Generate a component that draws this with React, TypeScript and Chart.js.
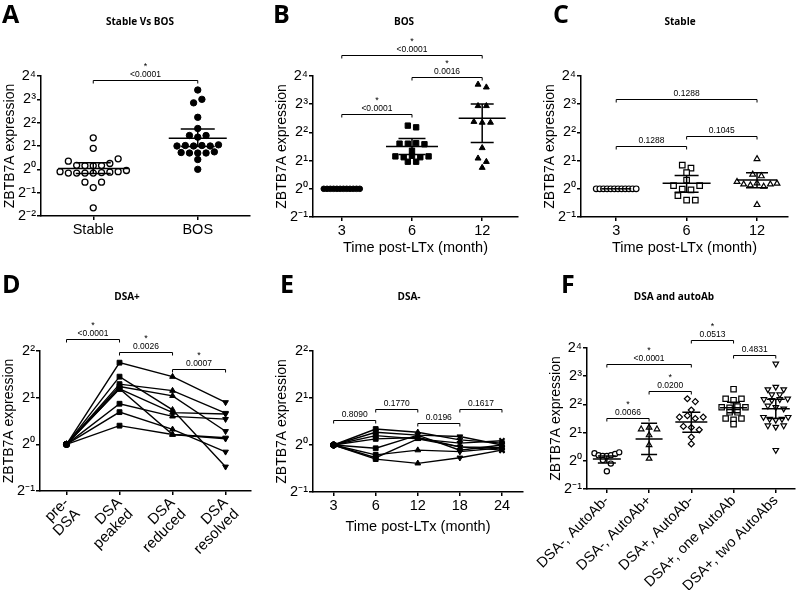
import React, { useEffect, useRef } from "react";
import { Chart, registerables } from "chart.js";

Chart.register(...registerables);

// ---------------- DATA (log2 values of ZBTB7A expression) ----------------
const A_CATEGORIES = ["Stable", "BOS"];
const A_STABLE = [1.35, 0.9, 0.35, 0.17, 0.15, 0.15, 0.16, 0.25, 0.45, -0.1, -0.16, -0.16, -0.16, -0.16, -0.14, -0.12, -0.1, -0.05, -0.55, -0.78, -0.55, -1.65];
const A_BOS = [3.4, 2.85, 3.0, 2.23, 1.75, 1.45, 1.38, 1.45, 1.0, 1.02, 1.0, 1.02, 1.0, 1.05, 0.72, 0.7, 0.7, 0.7, 0.75, 0.42, 0.0];
const A_MEAN = [0.04, 1.33];
const A_LOW = [-0.18, 0.98];
const A_HIGH = [0.28, 1.73];

const B_CATEGORIES = ["3", "6", "12"];
const B_M3 = [0, 0, 0, 0, 0, 0, 0, 0, 0, 0, 0, 0];
const B_M6 = [2.24, 2.18, 1.6, 1.6, 1.62, 1.58, 1.35, 1.15, 1.12, 1.17, 1.12, 1.15, 0.96, 0.96];
const B_M12 = [3.7, 3.6, 2.94, 2.94, 2.38, 2.35, 2.35, 1.45, 1.08, 0.96, 0.75];
const B_MEAN = [0, 1.5, 2.5];
const B_LOW = [0, 1.22, 1.64];
const B_HIGH = [0, 1.78, 3.01];

const C_CATEGORIES = ["3", "6", "12"];
const C_M3 = [0, 0, 0, 0, 0, 0, 0, 0, 0, 0, 0, 0];
const C_M6 = [0.84, 0.73, 0.57, 0.31, 0.11, -0.01, -0.04, 0.11, -0.24, -0.4, -0.4];
const C_M12 = [1.06, 0.51, 0.45, 0.25, 0.16, 0.13, 0.2, 0.08, 0.16, 0.19, -0.57];
const C_MEAN = [0, 0.2, 0.31];
const C_LOW = [0, -0.12, 0.04];
const C_HIGH = [0, 0.47, 0.57];

const D_CATEGORIES = [["pre-", "DSA"], ["DSA", "peaked"], ["DSA", "reduced"], ["DSA", "resolved"]];
const D_SERIES = [
  [0, 1.75, 1.45, 0.9],
  [0, 1.45, 0.74, -0.48],
  [0, 1.29, 1.15, 0.67],
  [0, 1.24, 1.04, 0.28],
  [0, 1.19, 0.68, 0.65],
  [0, 1.19, 0.21, 0.12],
  [0, 0.87, 0.6, 0.54],
  [0, 0.69, 0.32, -0.16],
  [0, 0.4, 0.21, 0.14],
];

const E_CATEGORIES = ["3", "6", "12", "18", "24"];
const E_SERIES = [
  [0, 0.34, 0.27, 0.11, 0.04],
  [0, 0.27, 0.21, 0.18, 0.0],
  [0, 0.2, 0.13, 0.04, 0.09],
  [0, 0.13, 0.16, -0.04, -0.06],
  [0, -0.07, 0.21, -0.11, 0.0],
  [0, -0.21, -0.11, -0.14, -0.06],
  [0, -0.27, 0.13, -0.04, -0.11],
  [0, -0.3, -0.39, -0.27, -0.11],
];

const F_CATEGORIES = ["DSA-, AutoAb-", "DSA-, AutoAb+", "DSA+, AutoAb-", "DSA+, one AutoAb", "DSA+, two AutoAbs"];
const F_G1 = [0.27, 0.2, 0.17, 0.17, 0.2, 0.24, 0.3, 0.03, -0.1, -0.37];
const F_G2 = [1.12, 1.18, 1.12, 0.91, 0.56, 0.08];
const F_G3 = [2.2, 2.1, 1.8, 1.55, 1.6, 1.5, 1.55, 1.22, 1.18, 1.1, 0.84, 0.6];
const F_G4 = [2.54, 2.2, 2.15, 2.2, 1.9, 1.88, 1.92, 1.9, 1.72, 1.72, 1.5, 1.45, 1.5, 1.3];
const F_G5 = [3.44, 2.53, 2.62, 2.53, 2.35, 2.35, 2.18, 2.15, 2.18, 2.2, 1.95, 1.9, 1.85, 1.55, 1.48, 1.45, 1.48, 1.55, 1.25, 1.2, 1.25, 0.38];
const F_MEAN = [0.06, 0.77, 1.38, 1.88, 1.85];
const F_LOW = [-0.08, 0.22, 1.01, 1.7, 1.5];
const F_HIGH = [0.17, 1.33, 1.72, 2.08, 2.18];

type Bracket = { from: number; to: number; level: number; p: string; star: boolean };
const A_BRACKETS: Bracket[] = [{ from: 0, to: 1, level: 3.83, p: "<0.0001", star: true }];
const B_BRACKETS: Bracket[] = [
  { from: 0, to: 1, level: 2.64, p: "<0.0001", star: true },
  { from: 1, to: 2, level: 3.98, p: "0.0016", star: true },
  { from: 0, to: 2, level: 4.74, p: "<0.0001", star: true },
];
const C_BRACKETS: Bracket[] = [
  { from: 0, to: 1, level: 1.53, p: "0.1288", star: false },
  { from: 1, to: 2, level: 1.87, p: "0.1045", star: false },
  { from: 0, to: 2, level: 3.18, p: "0.1288", star: false },
];
const D_BRACKETS: Bracket[] = [
  { from: 0, to: 1, level: 2.25, p: "<0.0001", star: true },
  { from: 1, to: 2, level: 1.985, p: "0.0026", star: true },
  { from: 2, to: 3, level: 1.62, p: "0.0007", star: true },
];
const E_BRACKETS: Bracket[] = [
  { from: 0, to: 1, level: 0.53, p: "0.8090", star: false },
  { from: 1, to: 2, level: 0.76, p: "0.1770", star: false },
  { from: 2, to: 3, level: 0.46, p: "0.0196", star: false },
  { from: 3, to: 4, level: 0.76, p: "0.1617", star: false },
];
const F_BRACKETS: Bracket[] = [
  { from: 0, to: 1, level: 1.51, p: "0.0066", star: true },
  { from: 1, to: 2, level: 2.49, p: "0.0200", star: true },
  { from: 0, to: 2, level: 3.44, p: "<0.0001", star: true },
  { from: 2, to: 3, level: 4.3, p: "0.0513", star: true },
  { from: 3, to: 4, level: 3.76, p: "0.4831", star: false },
];

// ---------------- STYLE / LAYOUT ----------------
const SANS = '"Liberation Sans", Arial, sans-serif';
const BOLD = '"Open Sans", "Noto Sans", sans-serif';
const Y_TITLE = "ZBTB7A expression";
const X_TITLE = "Time post-LTx (month)";

const SUP: Record<string, string> = { "-": "\u207B", "0": "\u2070", "1": "\u00B9", "2": "\u00B2", "3": "\u00B3", "4": "\u2074" };
const supText = (n: number) => String(n).split("").map((c) => SUP[c] || c).join("");

type Marker = { style: string; radius: number; rotation?: number; open: boolean; border?: number };
type Group = { values: number[]; marker: Marker };

type Spec = {
  key: string;
  left: number; top: number; w: number; h: number;
  area: { l: number; r: number; t: number; b: number };
  xMin: number; xMax: number; yMin: number; yMax: number;
  labels: (string | string[])[];
  rotation: number; labelSize: number;
  xTitle?: string; xTitleY?: number;
  letter: string; letterX: number; letterY: number;
  title: string; titleX: number; titleY: number;
  groups?: Group[];
  swarm?: { thr: number; stepPx: number; maxPx: number };
  summary?: { mean: number[]; low: number[]; high: number[]; halfW: number[]; capW: number[] };
  series?: number[][];
  seriesMarkers?: Marker[];
  brackets: Bracket[];
};

const circleOpen: Marker = { style: "circle", radius: 2.8, open: true, border: 1.2 };

function swarm(vals: number[], center: number, thr: number, step: number, maxW: number) {
  const rows: number[][] = [];
  let cur: number[] = [];
  let first = 0;
  vals.forEach((v) => {
    if (cur.length && Math.abs(v - first) < thr) cur.push(v);
    else {
      if (cur.length) rows.push(cur);
      cur = [v];
      first = v;
    }
  });
  if (cur.length) rows.push(cur);
  const pts: { x: number; y: number }[] = [];
  rows.forEach((r) => {
    const n = r.length;
    const s = n > 1 ? Math.min(step, maxW / (n - 1)) : 0;
    r.forEach((v, i) => pts.push({ x: center + (i - (n - 1) / 2) * s, y: v }));
  });
  return pts;
}

const SPECS: Spec[] = [
  {
    key: "A", left: 0, top: 0, w: 262, h: 265,
    area: { l: 41, r: 250, t: 76, b: 216 },
    xMin: -0.5, xMax: 1.5, yMin: -2, yMax: 4,
    labels: A_CATEGORIES, rotation: 0, labelSize: 14.5,
    letter: "A", letterX: 2, letterY: 23, title: "Stable Vs BOS", titleX: 140, titleY: 25,
    groups: [
      { values: A_STABLE, marker: { style: "circle", radius: 3, open: true, border: 1.3 } },
      { values: A_BOS, marker: { style: "circle", radius: 3.2, open: false } },
    ],
    swarm: { thr: 0.25, stepPx: 8.3, maxPx: 80 },
    summary: { mean: A_MEAN, low: A_LOW, high: A_HIGH, halfW: [35, 29], capW: [17.5, 17] },
    brackets: A_BRACKETS,
  },
  {
    key: "B", left: 262, top: 0, w: 268, h: 265,
    area: { l: 313, r: 518, t: 76, b: 217 },
    xMin: -0.41, xMax: 2.51, yMin: -1, yMax: 4,
    labels: B_CATEGORIES, rotation: 0, labelSize: 14.5, xTitle: X_TITLE, xTitleY: 248,
    letter: "B", letterX: 273, letterY: 23, title: "BOS", titleX: 404, titleY: 25,
    groups: [
      { values: B_M3, marker: { style: "circle", radius: 2.8, open: false } },
      { values: B_M6, marker: { style: "rect", radius: 3.8, open: false } },
      { values: B_M12, marker: { style: "triangle", radius: 3.4, open: false } },
    ],
    swarm: { thr: 0.15, stepPx: 8.3, maxPx: 36 },
    summary: { mean: B_MEAN, low: B_LOW, high: B_HIGH, halfW: [15, 26, 23.5], capW: [0, 13.5, 11.5] },
    brackets: B_BRACKETS,
  },
  {
    key: "C", left: 530, top: 0, w: 270, h: 265,
    area: { l: 581, r: 788, t: 76, b: 217 },
    xMin: -0.5, xMax: 2.44, yMin: -1, yMax: 4,
    labels: C_CATEGORIES, rotation: 0, labelSize: 14.5, xTitle: X_TITLE, xTitleY: 248,
    letter: "C", letterX: 553, letterY: 23, title: "Stable", titleX: 680, titleY: 25,
    groups: [
      { values: C_M3, marker: circleOpen },
      { values: C_M6, marker: { style: "rect", radius: 3.9, open: true, border: 1.2 } },
      { values: C_M12, marker: { style: "triangle", radius: 3.3, open: true, border: 1.2 } },
    ],
    swarm: { thr: 0.18, stepPx: 8.7, maxPx: 40 },
    summary: { mean: C_MEAN, low: C_LOW, high: C_HIGH, halfW: [15, 24, 20], capW: [0, 12, 11] },
    brackets: C_BRACKETS,
  },
  {
    key: "D", left: 0, top: 265, w: 262, h: 325,
    area: { l: 40, r: 251, t: 351, b: 491 },
    xMin: -0.5, xMax: 3.48, yMin: -1, yMax: 2,
    labels: D_CATEGORIES, rotation: 45, labelSize: 15,
    letter: "D", letterX: 2, letterY: 293, title: "DSA+", titleX: 127, titleY: 300,
    series: D_SERIES,
    seriesMarkers: [
      { style: "circle", radius: 3, open: false },
      { style: "rect", radius: 3.4, open: false },
      { style: "triangle", radius: 3.3, open: false },
      { style: "triangle", radius: 3.3, rotation: 180, open: false },
    ],
    brackets: D_BRACKETS,
  },
  {
    key: "E", left: 262, top: 265, w: 268, h: 325,
    area: { l: 313, r: 523, t: 351, b: 492 },
    xMin: -0.49, xMax: 4.5, yMin: -1, yMax: 2,
    labels: E_CATEGORIES, rotation: 0, labelSize: 14.5, xTitle: X_TITLE, xTitleY: 527,
    letter: "E", letterX: 280, letterY: 293, title: "DSA-", titleX: 409, titleY: 300,
    series: E_SERIES,
    seriesMarkers: [
      { style: "circle", radius: 3, open: false },
      { style: "rect", radius: 3.4, open: false },
      { style: "triangle", radius: 3.3, open: false },
      { style: "triangle", radius: 3.3, rotation: 180, open: false },
      { style: "crossRot", radius: 3.6, open: false, border: 2 },
    ],
    brackets: E_BRACKETS,
  },
  {
    key: "F", left: 530, top: 265, w: 270, h: 325,
    area: { l: 587, r: 797, t: 348, b: 489 },
    xMin: -0.47, xMax: 4.45, yMin: -1, yMax: 4,
    labels: F_CATEGORIES, rotation: 45, labelSize: 14.5,
    letter: "F", letterX: 561, letterY: 293, title: "DSA and autoAb", titleX: 674, titleY: 300,
    groups: [
      { values: F_G1, marker: { style: "circle", radius: 2.6, open: true, border: 1.2 } },
      { values: F_G2, marker: { style: "triangle", radius: 3.2, open: true, border: 1.2 } },
      { values: F_G3, marker: { style: "rectRot", radius: 3, open: true, border: 1.2 } },
      { values: F_G4, marker: { style: "rect", radius: 3.8, open: true, border: 1.2 } },
      { values: F_G5, marker: { style: "triangle", radius: 3.2, rotation: 180, open: true, border: 1.2 } },
    ],
    swarm: { thr: 0.15, stepPx: 8, maxPx: 25 },
    summary: { mean: F_MEAN, low: F_LOW, high: F_HIGH, halfW: [14, 13.5, 16, 13.5, 14], capW: [9, 8, 9, 6.5, 9] },
    brackets: F_BRACKETS,
  },
];

function makePlugin(spec: Spec) {
  return {
    id: "prism" + spec.key,
    afterDatasetsDraw(chart: any) {
      const sm = spec.summary;
      if (!sm) return;
      const { ctx } = chart;
      const xs = chart.scales.x;
      const ys = chart.scales.y;
      ctx.save();
      ctx.strokeStyle = "#000";
      ctx.lineWidth = 1.5;
      sm.mean.forEach((m, i) => {
        const cx = xs.getPixelForValue(i);
        const my = ys.getPixelForValue(m);
        const ly = ys.getPixelForValue(sm.low[i]);
        const hy = ys.getPixelForValue(sm.high[i]);
        ctx.beginPath();
        ctx.moveTo(cx - sm.halfW[i], my);
        ctx.lineTo(cx + sm.halfW[i], my);
        if (sm.capW[i] > 0) {
          ctx.moveTo(cx, ly);
          ctx.lineTo(cx, hy);
          ctx.moveTo(cx - sm.capW[i], ly);
          ctx.lineTo(cx + sm.capW[i], ly);
          ctx.moveTo(cx - sm.capW[i], hy);
          ctx.lineTo(cx + sm.capW[i], hy);
        }
        ctx.stroke();
      });
      ctx.restore();
    },
    afterDraw(chart: any) {
      const { ctx } = chart;
      const xs = chart.scales.x;
      const ys = chart.scales.y;
      ctx.save();
      ctx.fillStyle = "#000";
      ctx.strokeStyle = "#000";
      // panel letter
      ctx.font = `700 25px ${BOLD}`;
      ctx.textAlign = "left";
      ctx.textBaseline = "alphabetic";
      ctx.fillText(spec.letter, spec.letterX - spec.left, spec.letterY - spec.top);
      // title
      ctx.font = `700 10px ${BOLD}`;
      ctx.textAlign = "center";
      ctx.fillText(spec.title, spec.titleX - spec.left, spec.titleY - spec.top);
      // significance brackets
      ctx.lineWidth = 1;
      spec.brackets.forEach((b) => {
        const x1 = xs.getPixelForValue(b.from);
        const x2 = xs.getPixelForValue(b.to);
        const yy = Math.round(ys.getPixelForValue(b.level)) + 0.5;
        ctx.beginPath();
        ctx.moveTo(x1, yy + 3);
        ctx.lineTo(x1, yy);
        ctx.lineTo(x2, yy);
        ctx.lineTo(x2, yy + 3);
        ctx.stroke();
        const mx = (x1 + x2) / 2;
        ctx.font = `8.5px ${SANS}`;
        ctx.fillText(b.p, mx, yy - 3.5);
        if (b.star) {
          ctx.font = `9px ${SANS}`;
          ctx.fillText("*", mx, yy - 11.5);
        }
      });
      ctx.restore();
    },
  };
}

function buildConfig(spec: Spec) {
  const plotW = spec.area.r - spec.area.l;
  const ppu = plotW / (spec.xMax - spec.xMin);
  const datasets: any[] = [];
  const markerProps = (m: Marker) => ({
    pointStyle: m.style,
    pointRadius: m.radius,
    pointRotation: m.rotation || 0,
    pointBackgroundColor: m.open ? "#fff" : "#000",
    pointBorderColor: "#000",
    pointBorderWidth: m.border ?? 1,
  });
  if (spec.groups && spec.swarm) {
    const sw = spec.swarm;
    spec.groups.forEach((g, i) => {
      datasets.push({
        data: swarm(g.values, i, sw.thr, sw.stepPx / ppu, sw.maxPx / ppu),
        showLine: false,
        clip: false,
        ...markerProps(g.marker),
      });
    });
  }
  if (spec.series && spec.seriesMarkers) {
    const mk = spec.seriesMarkers;
    spec.series.forEach((s) => {
      datasets.push({
        data: s.map((v, i) => ({ x: i, y: v })),
        showLine: true,
        clip: false,
        borderColor: "#000",
        borderWidth: 1.4,
        pointStyle: (c: any) => mk[c.dataIndex].style,
        pointRadius: (c: any) => mk[c.dataIndex].radius,
        pointRotation: (c: any) => mk[c.dataIndex].rotation || 0,
        pointBackgroundColor: "#000",
        pointBorderColor: "#000",
        pointBorderWidth: (c: any) => mk[c.dataIndex].border ?? 1,
      });
    });
  }

  const yAxisW = spec.area.l - spec.left;
  const xAxisH = spec.top + spec.h - spec.area.b;
  const yTitleLH = 14 * 1.2;
  const xTitleLH = 14.5 * 1.2;
  const yTitleCenter = spec.area.l - 31 - spec.left;
  const xTitleBottomPad = spec.xTitleY ? spec.top + spec.h - spec.xTitleY - xTitleLH / 2 : 0;

  const grid = { display: true, drawOnChartArea: false, drawTicks: true, tickLength: 4, color: "#000", lineWidth: 1.5 };
  const border = { display: true, color: "#000", width: 1.5 };

  return {
    type: "scatter" as const,
    data: { datasets },
    plugins: [makePlugin(spec)],
    options: {
      responsive: false,
      animation: false as const,
      devicePixelRatio: 1,
      events: [],
      layout: { padding: { left: 0, top: spec.area.t - spec.top, right: spec.left + spec.w - spec.area.r, bottom: 0 } },
      plugins: { legend: { display: false }, tooltip: { enabled: false }, title: { display: false } },
      scales: {
        x: {
          type: "linear",
          min: spec.xMin,
          max: spec.xMax,
          afterBuildTicks: (s: any) => {
            s.ticks = spec.labels.map((_, i) => ({ value: i }));
          },
          ticks: {
            autoSkip: false,
            minRotation: spec.rotation,
            maxRotation: spec.rotation,
            color: "#000",
            padding: spec.rotation ? 0 : 2,
            font: { family: SANS, size: spec.labelSize, lineHeight: 1.05 },
            callback: (v: any) => spec.labels[Math.round(Number(v))] ?? "",
          },
          title: {
            display: !!spec.xTitle,
            text: spec.xTitle || "",
            color: "#000",
            font: { family: SANS, size: 14.5 },
            padding: { top: 0, bottom: xTitleBottomPad },
          },
          grid,
          border,
          afterFit: (s: any) => {
            s.height = xAxisH;
            s.paddingLeft = 0;
            s.paddingRight = 0;
          },
        },
        y: {
          type: "linear",
          min: spec.yMin,
          max: spec.yMax,
          afterBuildTicks: (s: any) => {
            const t: { value: number }[] = [];
            for (let v = spec.yMin; v <= spec.yMax; v++) t.push({ value: v });
            s.ticks = t;
          },
          ticks: {
            color: "#000",
            padding: 1,
            font: { family: SANS, size: 14.5 },
            callback: (v: any) => "2" + supText(Math.round(Number(v))),
          },
          title: {
            display: true,
            text: Y_TITLE,
            color: "#000",
            font: { family: SANS, size: 14 },
            padding: { top: yTitleCenter - yTitleLH / 2, bottom: 0 },
          },
          grid,
          border,
          afterFit: (s: any) => {
            s.width = yAxisW;
            s.paddingTop = 0;
            s.paddingBottom = 0;
          },
        },
      },
    },
  };
}

function Panel({ spec }: { spec: Spec }) {
  const ref = useRef<HTMLCanvasElement>(null);
  useEffect(() => {
    if (!ref.current) return;
    const chart = new Chart(ref.current, buildConfig(spec) as any);
    return () => chart.destroy();
  }, [spec]);
  return (
    <canvas
      ref={ref}
      width={spec.w}
      height={spec.h}
      style={{ position: "absolute", left: spec.left, top: spec.top, width: spec.w, height: spec.h }}
    />
  );
}

export default function App() {
  return (
    <div style={{ position: "absolute", left: 0, top: 0, width: 800, height: 590, background: "#fff", overflow: "hidden" }}>
      {SPECS.map((s) => (
        <Panel key={s.key} spec={s} />
      ))}
    </div>
  );
}
